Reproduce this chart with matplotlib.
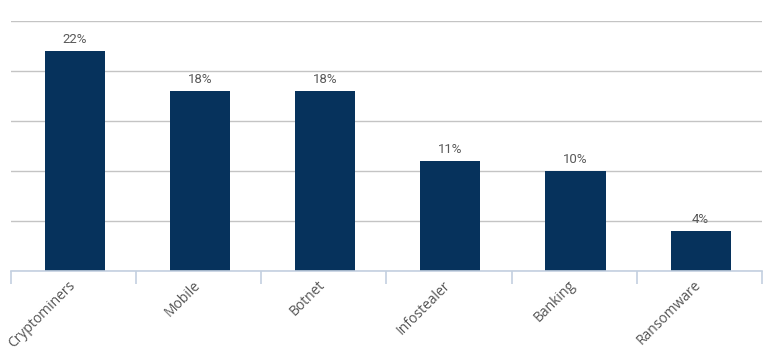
import matplotlib
matplotlib.use('Agg')
import matplotlib.pyplot as plt
import matplotlib.transforms as mtransforms
import numpy as np

categories = ['Cryptominers', 'Mobile', 'Botnet', 'Infostealer', 'Banking', 'Ransomware']
values = [22, 18, 18, 11, 10, 4]
value_labels = ['22%', '18%', '18%', '11%', '10%', '4%']

fig = plt.figure(figsize=(7.7, 3.61), dpi=100)
ax = fig.add_axes([11 / 770, 90 / 361, 751 / 770, 250 / 361])

x = np.arange(len(categories))
bars = ax.bar(x + 0.01, values, width=0.48, color='#06325c', zorder=3)

for bar, lab in zip(bars, value_labels):
    ax.text(bar.get_x() + bar.get_width() / 2, bar.get_height() + 0.5, lab,
            ha='center', va='bottom', fontsize=9.5, color='#595959', family='Roboto')

ax.set_xlim(-0.5, len(categories) - 0.5)
ax.set_ylim(0, 25)
ax.set_yticks(np.arange(0, 26, 5))
ax.yaxis.grid(True, color='#c4c4c4', linewidth=1, zorder=0)
ax.tick_params(axis='y', left=False, labelleft=False)

for s in ['top', 'right', 'left']:
    ax.spines[s].set_visible(False)
ax.spines['bottom'].set_color('#c3d0e0')
ax.spines['bottom'].set_linewidth(1.2)
ax.spines['bottom'].set_zorder(4)

ax.set_xticks(x)
ax.set_xticklabels(categories, rotation=45, ha='right', rotation_mode='anchor',
                   fontsize=10, color='#555555', family='Open Sans')
ax.tick_params(axis='x', which='major', length=0, pad=5)
ax.set_xticks(np.arange(-0.5, len(categories), 1), minor=True)
ax.tick_params(axis='x', which='minor', length=9, width=1.2, color='#c3d0e0')

shift = mtransforms.ScaledTranslation(-6 / 100, 0, fig.dpi_scale_trans)
for lbl in ax.get_xticklabels():
    lbl.set_transform(lbl.get_transform() + shift)

plt.savefig('out.png', dpi=100)
